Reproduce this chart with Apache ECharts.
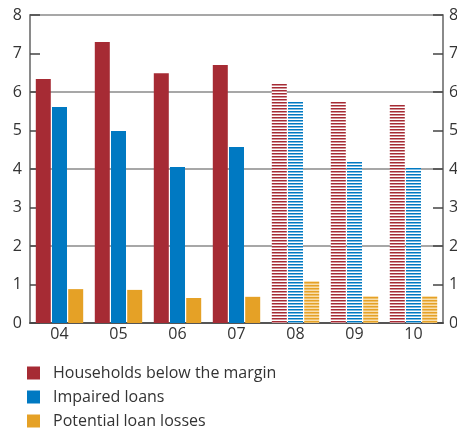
<!DOCTYPE html>
<html>
<head>
<meta charset="utf-8">
<script src="https://cdn.jsdelivr.net/npm/echarts@6/dist/echarts.min.js"></script>
<style>
  html, body { margin: 0; padding: 0; background: #fff; }
  #chart { width: 457px; height: 430px; }
</style>
</head>
<body>
<div id="chart"></div>
<script>
// Years (two-digit); 08-10 are projections drawn hatched
const categories = ['04', '05', '06', '07', '08', '09', '10'];
const projectedFrom = 4;

const households = [6.34, 7.30, 6.49, 6.70, 6.21, 5.74, 5.67];
const impaired   = [5.61, 4.99, 4.05, 4.57, 5.74, 4.19, 4.03];
const losses     = [0.88, 0.86, 0.65, 0.68, 1.09, 0.70, 0.70];

const seriesNames = ['Households below the margin', 'Impaired loans', 'Potential loan losses'];
const colors = ['#a62b34', '#0079c2', '#e5a126'];
const hatchGaps = ['#ffffff', '#ffffff', '#f8dfae'];

// Horizontal-stripe fill for projected bars
function stripes(line, gap) {
  const c = document.createElement('canvas');
  c.width = 4; c.height = 3;
  const g = c.getContext('2d');
  g.fillStyle = gap; g.fillRect(0, 0, 4, 3);
  g.fillStyle = line; g.fillRect(0, 0, 4, 1.5);
  return c;
}

function buildData(values, i) {
  return values.map((v, k) => k < projectedFrom ? v : {
    value: v,
    itemStyle: { color: { image: stripes(colors[i], hatchGaps[i]), repeat: 'repeat' } }
  });
}

const font = 'Open Sans, DejaVu Sans, sans-serif';
const valueAxisBase = {
  type: 'value', min: 0, max: 8, interval: 1,
  axisLine: { show: true, lineStyle: { color: '#8a8a8a', width: 2 } },
  axisTick: { show: true, inside: true, length: 10, lineStyle: { color: '#444', width: 1.5 } },
  splitLine: { show: false },
  axisLabel: { color: '#333', fontSize: 16, fontFamily: font }
};

const chart = echarts.init(document.getElementById('chart'), null, { renderer: 'canvas' });
chart.setOption({
  animation: false,
  color: colors,
  grid: { left: 30, right: 14, top: 15, bottom: 107, outerBoundsMode: 'none', containLabel: false },
  legend: {
    orient: 'vertical', left: 27, top: 365, padding: 0,
    icon: 'rect', itemWidth: 13, itemHeight: 13, itemGap: 8,
    textStyle: { color: '#333', fontSize: 16, fontFamily: font, padding: [0, 0, 0, 8] },
    data: seriesNames
  },
  xAxis: {
    type: 'category', data: categories,
    axisLine: { lineStyle: { color: '#555', width: 2 } },
    axisTick: { show: false },
    axisLabel: { color: '#333', fontSize: 16, fontFamily: font, margin: 3 }
  },
  yAxis: [
    Object.assign({}, valueAxisBase, { position: 'left', axisLabel: Object.assign({}, valueAxisBase.axisLabel, { margin: 8 }) }),
    Object.assign({}, valueAxisBase, { position: 'right', axisLabel: Object.assign({}, valueAxisBase.axisLabel, { margin: 6 }) }),
    {
      type: 'value', min: 0, max: 8, interval: 2, position: 'left',
      axisLine: { show: false }, axisTick: { show: false }, axisLabel: { show: false },
      splitLine: { show: true, lineStyle: { color: '#8a8a8a', width: 1.5 } }
    }
  ],
  series: [households, impaired, losses].map((vals, i) => ({
    name: seriesNames[i], type: 'bar', yAxisIndex: 0,
    barWidth: 15, barGap: '8%',
    itemStyle: { color: colors[i] },
    data: buildData(vals, i)
  }))
});
</script>
</body>
</html>
